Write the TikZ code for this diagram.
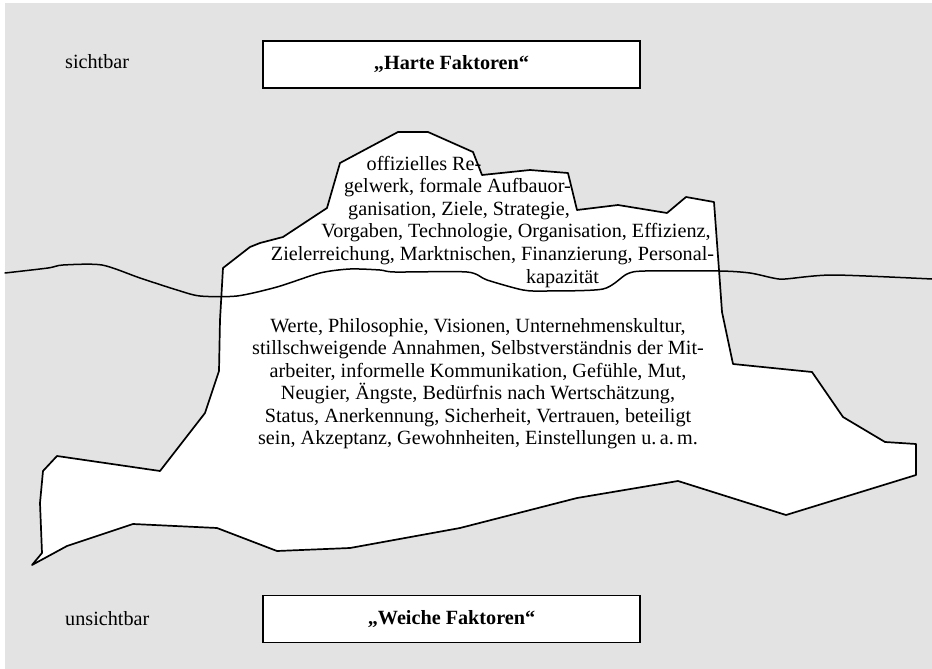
\documentclass[tikz,border=0pt]{standalone}
\usepackage{fontspec}
\setmainfont{Liberation Serif}
\definecolor{bggray}{HTML}{E2E3E2}
\tikzset{
  berg/.style={draw=black, fill=white, line width=1.7pt, line join=round},
  water/.style={draw=black, line width=1.5pt, line cap=round},
  txtline/.style={anchor=base, inner sep=0pt, font=\fontsize{20.2}{22.7}\selectfont},
  sidelbl/.style={anchor=base west, inner sep=0pt, font=\fontsize{20.2}{22.7}\selectfont},
  factbox/.style={draw=black, fill=white, line width=1.3pt, minimum width=377pt, minimum height=47pt, inner sep=0pt, font=\fontsize{20.2}{22.7}\selectfont\bfseries}
}
\begin{document}
\begin{tikzpicture}[x=1pt,y=-1pt]
\useasboundingbox (0,0) rectangle (932,669);
\fill[white] (0,0) rectangle (932,669);
\fill[bggray] (5,3) rectangle (932,669);
% iceberg
\draw[berg] (340,163) -- (398,132) -- (428,132) -- (473,152) -- (482,175) -- (530,170) -- (568,173) -- (577,210) -- (618,205) -- (667,213) -- (686,197) -- (714,202) -- (719,270) -- (722,312) -- (733,364) -- (812,372) -- (843,417) -- (885,442) -- (916,444) -- (916,475) -- (786,515) -- (678,481) -- (577,498) -- (460,528) -- (350,548) -- (277,551) -- (217,528) -- (133,524) -- (67,546) -- (32,565) -- (42,553) -- (40,503) -- (43,471) -- (57,456) -- (160,471) -- (205,413) -- (219,371) -- (220,320) -- (223,268) -- (250,247) -- (260,243) -- (283,237) -- (327,208) -- cycle;
% water line
\draw[water] plot[smooth, tension=0.45] coordinates {(5,273) (48,268) (63,265) (102,265) (140,278) (177,290) (200,296) (237,296) (277,287) (320,273) (350,269) (380,270) (395,272) (467,272) (487,280) (523,290) (547,291) (603,289) (627,274) (645,271) (720,271) (750,273) (773,278) (785,279) (833,275) (932,279)};
% upper text
\node[txtline] (t1) at (424,170) {offizielles Re-};
\node[txtline] (t2) at (457.5,192.5) {gelwerk, formale Aufbauor-};
\node[txtline] (t3) at (459,215) {ganisation, Ziele, Strategie,};
\node[txtline] (t4) at (516,237.5) {Vorgaben, Technologie, Organisation, Effizienz,};
\node[txtline] (t5) at (492.5,260) {Zielerreichung, Marktnischen, Finanzierung, Personal-};
\node[txtline] (t6) at (562.5,283) {kapazität};
% lower text
\node[txtline] (b1) at (478,332) {Werte, Philosophie, Visionen, Unternehmenskultur,};
\node[txtline] (b2) at (478,354.5) {stillschweigende Annahmen, Selbstverständnis der Mit-};
\node[txtline] (b3) at (478,377) {arbeiter, informelle Kommunikation, Gefühle, Mut,};
\node[txtline] (b4) at (478,399.5) {Neugier, Ängste, Bedürfnis nach Wertschätzung,};
\node[txtline] (b5) at (478,422) {Status, Anerkennung, Sicherheit, Vertrauen, beteiligt};
\node[txtline] (b6) at (478,444.5) {sein, Akzeptanz, Gewohnheiten, Einstellungen u.\,a.\,m.};
% labels and boxes
\node[sidelbl] (sicht) at (65,69) {sichtbar};
\node[sidelbl] (unsicht) at (65,625) {unsichtbar};
\node[factbox] (harte) at (451.5,64.5) {„Harte Faktoren“};
\node[factbox] (weiche) at (451.5,619) {„Weiche Faktoren“};
\end{tikzpicture}
\end{document}
